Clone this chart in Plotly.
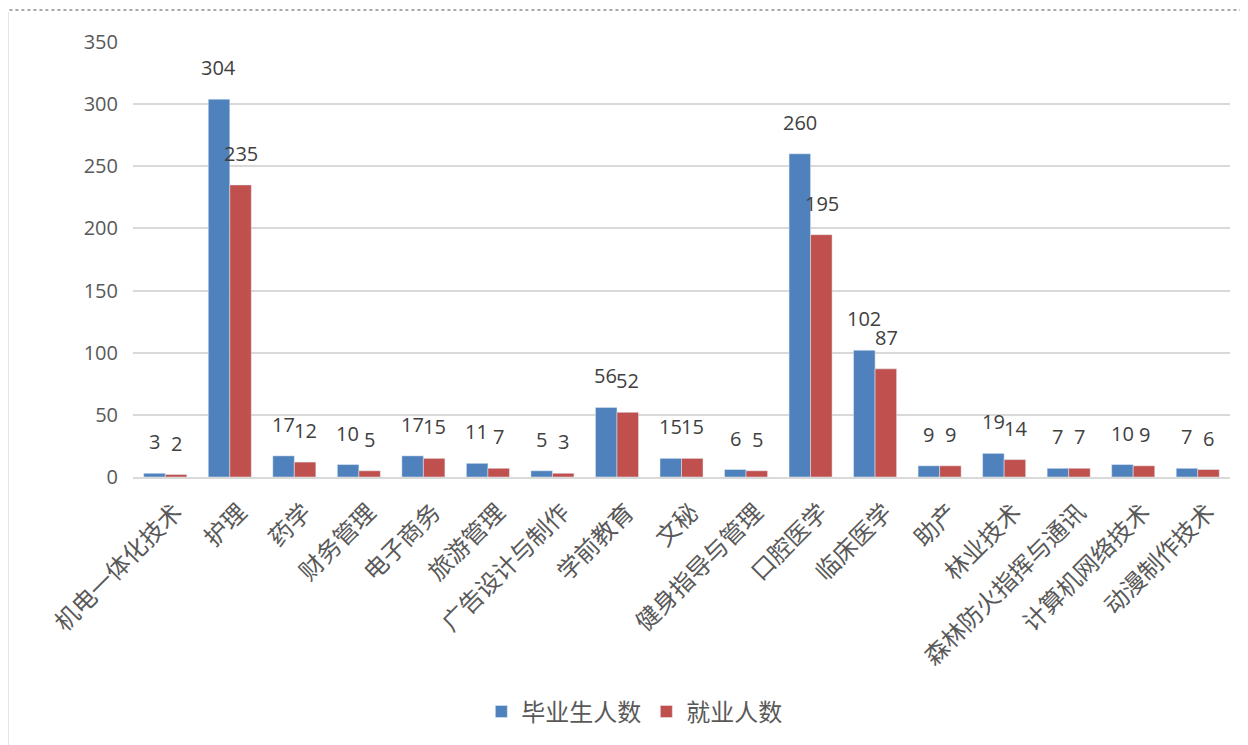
import plotly.graph_objects as go

categories = ["机电一体化技术", "护理", "药学", "财务管理", "电子商务", "旅游管理",
              "广告设计与制作", "学前教育", "文秘", "健身指导与管理", "口腔医学",
              "临床医学", "助产", "林业技术", "森林防火指挥与通讯", "计算机网络技术",
              "动漫制作技术"]
graduates = [3, 304, 17, 10, 17, 11, 5, 56, 15, 6, 260, 102, 9, 19, 7, 10, 7]
employed = [2, 235, 12, 5, 15, 7, 3, 52, 15, 5, 195, 87, 9, 14, 7, 9, 6]
y_ticks = [0, 50, 100, 150, 200, 250, 300, 350]

BLUE = "#4F81BD"
RED = "#C0504D"
NUM_FONT = "Open Sans, Liberation Sans, sans-serif"
CJK_FONT = "Noto Sans CJK SC, sans-serif"

fig = go.Figure()
fig.add_trace(go.Bar(name="毕业生人数", x=categories, y=graduates, marker_color=BLUE,
                     hoverinfo="x+y"))
fig.add_trace(go.Bar(name="就业人数", x=categories, y=employed, marker_color=RED,
                     hoverinfo="x+y"))

annotations = []
for cat, g, e in zip(categories, graduates, employed):
    for val, shift in ((g, -11), (e, 11)):
        annotations.append(dict(
            x=cat, y=val, xref="x", yref="y", text=str(val), showarrow=False,
            xshift=shift, yshift=16, yanchor="bottom", xanchor="center",
            font=dict(family=NUM_FONT, size=20, color="#404040"),
        ))

fig.update_layout(
    width=1248, height=745,
    paper_bgcolor="white", plot_bgcolor="white",
    margin=dict(l=125, r=26, t=34, b=276),
    barmode="group", bargap=0.333, bargroupgap=0,
    showlegend=True,
    legend=dict(orientation="h", x=0.457, xanchor="center", y=-0.54, yanchor="middle",
                font=dict(family=CJK_FONT, size=24, color="#595959"),
                itemwidth=30, tracegroupgap=0),
    annotations=annotations,
    xaxis=dict(
        tickangle=-45, tickfont=dict(family=CJK_FONT, size=24, color="#595959"),
        showline=True, linecolor="#D9D9D9", linewidth=1.5, showgrid=False,
        ticks="", ticklabelstandoff=10, ticklabelshift=10,
        range=[-0.5, len(categories) - 0.5],
    ),
    yaxis=dict(
        range=[0, 350], tickvals=y_ticks,
        tickfont=dict(family=NUM_FONT, size=20, color="#595959"),
        showgrid=True, gridcolor="#D9D9D9", gridwidth=1.5,
        zeroline=False, showline=False, ticks="", ticklabelstandoff=14,
    ),
    shapes=[
        dict(type="line", xref="paper", yref="paper", x0=-0.14, x1=1.03,
             y0=1.0736, y1=1.0736, line=dict(color="#555555", width=1.2, dash="dot")),
        dict(type="line", xref="paper", yref="paper", x0=-0.1140, x1=-0.1140,
             y0=1.0690, y1=-0.6161, line=dict(color="#D9D9D9", width=1.5)),
    ],
)

fig.write_html("out.html")
